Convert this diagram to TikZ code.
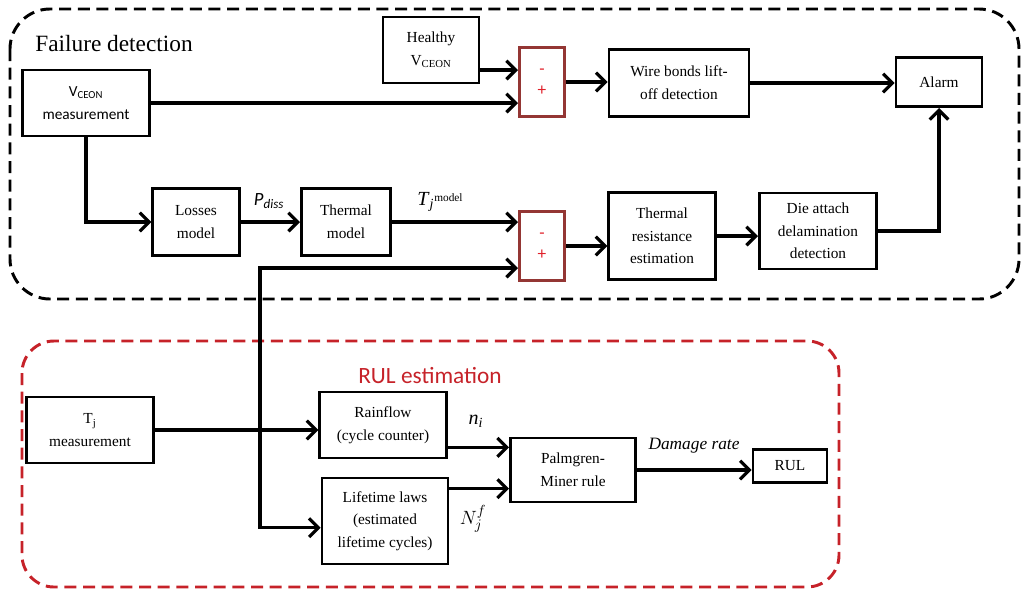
\documentclass[tikz,border=0pt]{standalone}
\usepackage{fontspec}
\setmainfont{Liberation Serif}
\newfontfamily\calibri{Carlito}
\usepackage{tikz}
\usetikzlibrary{positioning, arrows.meta, calc}
\definecolor{darkred}{HTML}{943634}
\definecolor{signred}{HTML}{E0202A}
\definecolor{rulred}{HTML}{C62229}

\tikzset{
    block/.style={draw, line width=2pt, align=center, inner sep=2pt,
                  font=\fontsize{11.5}{17}\selectfont},
    compbox/.style={draw=darkred, line width=2pt, align=center, text=signred,
                    minimum width=34pt, minimum height=52pt,
                    font=\calibri\fontsize{13}{16}\selectfont},
    flow/.style={line width=2.4pt, -{Straight Barb[length=7pt,width=14pt]}},
    flowboth/.style={line width=2.4pt,
                     {Straight Barb[length=7pt,width=14pt]}-{Straight Barb[length=7pt,width=14pt]}},
    frame/.style={line width=2.2pt, dash pattern=on 9pt off 5pt},
    lbl/.style={inner sep=0pt}
}

\begin{document}
\begin{tikzpicture}[x=0.75pt, y=-0.75pt]
    \useasboundingbox (0,0) rectangle (1022,594);

    % the two groups
    \draw[frame, rounded corners=30pt] (10,9) rectangle (1019,299);
    \draw[frame, draw=rulred, rounded corners=24pt] (22,341) rectangle (839,587);
    \node[lbl, font=\fontsize{17.5}{20}\selectfont] (fdtitle) at (114,44) {Failure detection};
    \node[lbl, text=rulred, font=\calibri\fontsize{17.5}{20}\selectfont] (rultitle) at (430,376) {RUL estimation};

    % failure detection
    \node[block, minimum width=95pt, minimum height=49.5pt] (vmeas) at (86,103)
        {{\calibri V\textsubscript{CEON}}\\{\calibri measurement}};
    \node[block, minimum width=72pt, minimum height=49.5pt] (healthy) at (431,50)
        {Healthy\\V\textsubscript{CEON}};
    \node[compbox] (comp1) at (542,82) {-\\+};
    \node[block, minimum width=105pt, minimum height=50pt] (wire) at (679,83)
        {Wire bonds lift-\\off detection};
    \node[block, minimum width=64.5pt, minimum height=37pt] (alarm) at (939,82) {Alarm};
    \node[block, minimum width=65pt, minimum height=50pt] (losses) at (196,222)
        {Losses\\model};
    \node[block, minimum width=67pt, minimum height=50pt] (thermal) at (346,222)
        {Thermal\\model};
    \node[compbox] (comp2) at (542,246) {-\\+};
    \node[block, minimum width=80pt, minimum height=65pt] (thres) at (662,236)
        {Thermal\\resistance\\estimation};
    \node[block, minimum width=88pt, minimum height=57pt] (die) at (818,231)
        {Die attach\\delamination\\detection};

    % RUL estimation
    \node[block, minimum width=95pt, minimum height=49.5pt] (tjmeas) at (90,430)
        {T\textsubscript{j}\\measurement};
    \node[block, minimum width=95pt, minimum height=49.5pt] (rain) at (383,425)
        {Rainflow\\(cycle counter)};
    \node[block, minimum width=94.5pt, minimum height=64.5pt] (life) at (385,521)
        {Lifetime laws\\(estimated\\lifetime cycles)};
    \node[block, minimum width=94pt, minimum height=48pt] (pm) at (573,470)
        {Palmgren-\\Miner rule};
    \node[block, minimum width=55.5pt, minimum height=25pt] (rul) at (790,466) {RUL};

    % signal labels
    \node[lbl, font=\calibri\itshape\fontsize{14}{16}\selectfont] (pdiss) at (269,201)
        {P\textsubscript{diss}};
    \node[lbl] (tjmodel) at (440,202)
        {{\fontsize{15}{16}\selectfont\textit{T}\textsubscript{\textit{j}}}\raisebox{0.7ex}{\fontsize{8.5}{9}\selectfont model}};
    \node[lbl, font=\fontsize{15}{16}\selectfont] (ni) at (476,421)
        {\textit{n}\textsubscript{\textit{i}}};
    \node[lbl, font=\fontsize{15}{16}\selectfont] (nf) at (473,519) {$N_j^f$};
    \node[lbl, font=\itshape\fontsize{13}{15}\selectfont] (dmg) at (694,446) {Damage rate};

    % connectors
    \coordinate (minus1) at ([yshift=9pt]comp1.west);
    \coordinate (minus2) at ([yshift=18pt]comp2.west);
    \coordinate (plus2) at ([yshift=-16.5pt]comp2.west);
    \coordinate (branch) at (260,268);
    \coordinate (pmin1) at ([yshift=17pt]pm.west);
    \coordinate (pmin2) at ([yshift=-14pt]pm.west);

    \draw[flow] (healthy.east |- minus1) -- (minus1);
    \draw[flow] (vmeas.east) -- (vmeas.east -| comp1.west);
    \draw[flow] (comp1.east) -- (comp1.east -| wire.west);
    \draw[flow] (wire.east) -- (wire.east -| alarm.west);
    \draw[flow] (vmeas.south) |- (losses.west);
    \draw[flow] (losses) -- (thermal);
    \draw[flow] (thermal.east |- minus2) -- (minus2);
    \draw[flowboth] (plus2) -- (branch) |- ([yshift=-5pt]life.west);
    \draw[flow] (tjmeas.east) -- (tjmeas.east -| rain.west);
    \draw[flow] (comp2.east) -- (comp2.east -| thres.west);
    \draw[flow] (thres.east) -- (thres.east -| die.west);
    \draw[flow] (die.east) -| (alarm.south);
    \draw[flow] (rain.east |- pmin1) -- (pmin1);
    \draw[flow] (life.east |- pmin2) -- (pmin2);
    \draw[flow] (pm.east) -- (pm.east -| rul.west);
\end{tikzpicture}
\end{document}
